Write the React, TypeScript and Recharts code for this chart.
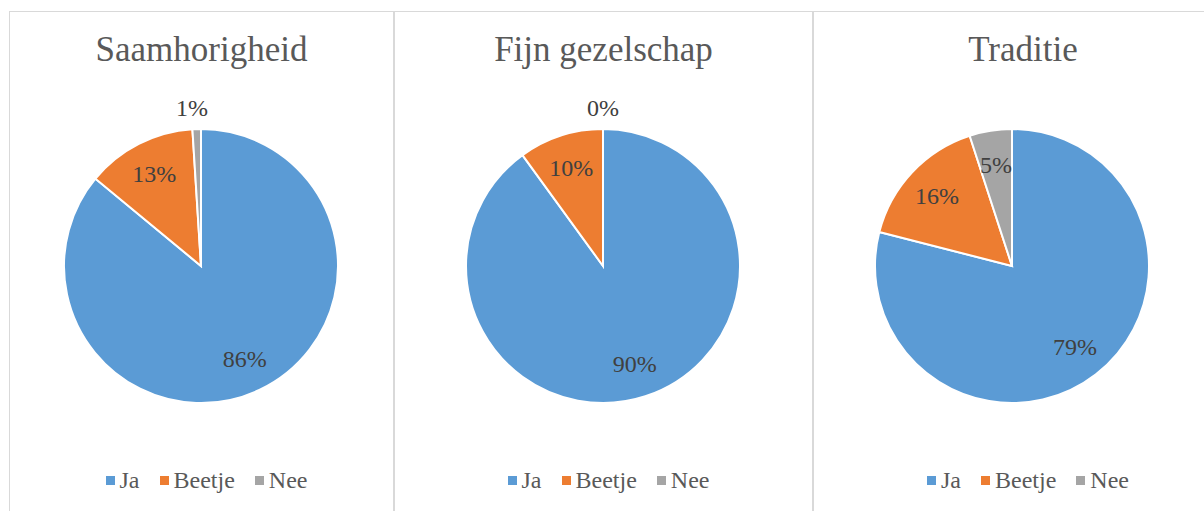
import React from 'react';
import { PieChart, Pie, Cell, Legend } from 'recharts';

const categories = ['Ja', 'Beetje', 'Nee'];
const titles = ['Saamhorigheid', 'Fijn gezelschap', 'Traditie'];
const saamhorigheid = [86, 13, 1];
const fijnGezelschap = [90, 10, 0];
const traditie = [79, 16, 5];
const seriesValues = [saamhorigheid, fijnGezelschap, traditie];

const colors = ['#5B9BD5', '#ED7D31', '#A5A5A5'];
const FONT = '"Liberation Serif", "DejaVu Serif", serif';
const RAD = Math.PI / 180;

// panel frames and pie centres, in page pixels
const panels = [
  { left: 9, width: 385, cx: 201 },
  { left: 394, width: 419, cx: 603 },
  { left: 813, width: 420, cx: 1012 },
];
const CY = 266;
const R = 137;

const renderLabel = (props: any) => {
  const { cx, cy, midAngle, outerRadius, percent, value } = props;
  const small = percent < 0.03;
  const r = small ? outerRadius + 21 : outerRadius * 0.75;
  const x = cx + r * Math.cos(-midAngle * RAD) - (small && value > 0 ? 4 : 0);
  const y = cy + r * Math.sin(-midAngle * RAD);
  return (
    <text x={x} y={y} fill="#404040" fontFamily={FONT} fontSize={24} textAnchor="middle" dominantBaseline="central">
      {`${value}%`}
    </text>
  );
};

const renderLegend = () => (
  <div style={{ display: 'flex', justifyContent: 'center', paddingLeft: 10, fontFamily: FONT, fontSize: 24, color: '#595959', lineHeight: '28px' }}>
    {categories.map((c, i) => (
      <div key={c} style={{ display: 'flex', alignItems: 'center', marginRight: i < 2 ? 20 : 0 }}>
        <span style={{ width: 9, height: 9, background: colors[i], display: 'inline-block', marginRight: 5 }} />
        <span>{c}</span>
      </div>
    ))}
  </div>
);

const App: React.FC = () => {
  return (
    <div style={{ position: 'absolute', left: 0, top: 0, width: 1204, height: 511, overflow: 'hidden', background: '#fff' }}>
      {panels.map((p, k) => {
        const data = categories.map((name, i) => ({ name, value: seriesValues[k][i] }));
        return (
          <div key={k} style={{ position: 'absolute', left: p.left, top: 11, width: p.width, height: 520, border: '1px solid #D9D9D9', boxSizing: 'border-box' }}>
            <div style={{ position: 'absolute', left: 0, top: 18, width: '100%', textAlign: 'center', fontFamily: FONT, fontSize: 35, color: '#595959', lineHeight: '40px' }}>
              {titles[k]}
            </div>
            <div style={{ position: 'absolute', left: -1, top: -12 }}>
              <PieChart width={p.width} height={511} margin={{ top: 0, right: 0, bottom: 0, left: 0 }}>
                <Pie
                  data={data}
                  dataKey="value"
                  nameKey="name"
                  cx={p.cx - p.left}
                  cy={CY}
                  outerRadius={R}
                  startAngle={90}
                  endAngle={-270}
                  stroke="#FFFFFF"
                  strokeWidth={2}
                  label={renderLabel}
                  labelLine={false}
                  isAnimationActive={false}
                >
                  {data.map((d, i) => (
                    <Cell key={d.name} fill={colors[i]} />
                  ))}
                </Pie>
                <Legend content={renderLegend} wrapperStyle={{ top: 466, left: 0, width: p.width }} />
              </PieChart>
            </div>
          </div>
        );
      })}
    </div>
  );
};

export default App;
